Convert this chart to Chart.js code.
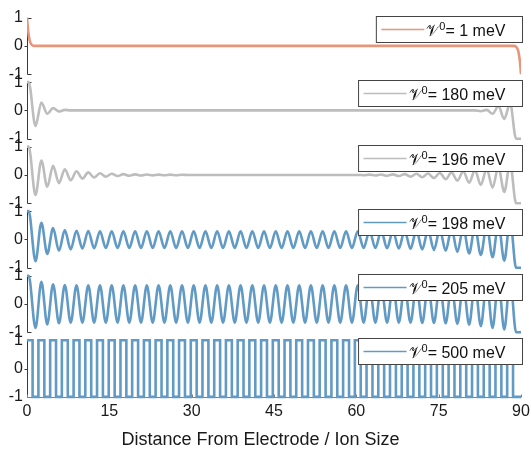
<!DOCTYPE html>
<html>
<head>
<meta charset="utf-8">
<script src="https://cdn.jsdelivr.net/npm/chart.js@4.4.0/dist/chart.umd.min.js"></script>
<style>
  html, body { margin: 0; padding: 0; background: #fff; }
  #wrap { width: 531px; height: 449px; }
</style>
</head>
<body>
<div id="wrap"><canvas id="potChart" width="531" height="449"></canvas></div>
<script>
// one panel per potential, top to bottom
const energies = ["1", "180", "196", "198", "205", "500"];
const xTicks = [0, 15, 30, 45, 60, 75, 90];
const yTicks = [-1, 0, 1];

// 1 meV: drops to zero right at each wall
const flatX = [0, 0.2, 0.5, 0.9, 1.3, 88.7, 89.1, 89.5, 89.8, 90];
const flatY = [1, 0.55, 0.18, 0.03, 0, 0, -0.03, -0.18, -0.55, -1];

// wall plateau, then trough/peak positions, then far wall
const nodeX = [0, 0.3,
  1.55, 2.62, 3.69, 4.75, 5.82, 6.89, 7.96, 9.02, 10.09, 11.16,
  12.23, 13.29, 14.36, 15.43, 16.50, 17.56, 18.63, 19.70, 20.77, 21.83,
  22.90, 23.97, 25.04, 26.10, 27.17, 28.24, 29.31, 30.37, 31.44, 32.51,
  33.58, 34.64, 35.71, 36.78, 37.85, 38.91, 39.98, 41.05, 42.12, 43.18,
  44.25, 45.32, 46.39, 47.45, 48.52, 49.59, 50.66, 51.72, 52.79, 53.86,
  54.93, 55.99, 57.06, 58.13, 59.20, 60.26, 61.33, 62.40, 63.47, 64.53,
  65.60, 66.67, 67.74, 68.80, 69.87, 70.94, 72.01, 73.07, 74.14, 75.21,
  76.28, 77.34, 78.41, 79.48, 80.55, 81.61, 82.68, 83.75, 84.82, 85.88,
  86.95, 88.02,
  89.1, 90];

const meV180 = [1, 1,
  -0.55, 0.28, -0.12, 0.08, -0.04, 0.02, 0, 0, 0, 0,
  0, 0, 0, 0, 0, 0, 0, 0, 0, 0,
  0, 0, 0, 0, 0, 0, 0, 0, 0, 0,
  0, 0, 0, 0, 0, 0, 0, 0, 0, 0,
  0, 0, 0, 0, 0, 0, 0, 0, 0, 0,
  0, 0, 0, 0, 0, 0, 0, 0, 0, 0,
  0, 0, 0, 0, 0, 0, 0, 0, 0, 0,
  0, 0, 0, 0, 0, 0, -0.03, 0.02, -0.12, 0.15,
  -0.3, 0.25,
  -1, -1];

const meV196 = [1, 1,
  -0.71, 0.51, -0.42, 0.32, -0.29, 0.2, -0.19, 0.13, -0.13, 0.09,
  -0.09, 0.06, -0.06, 0.04, -0.04, 0.03, -0.03, 0.02, -0.02, 0.015,
  -0.015, 0.01, -0.01, 0.01, -0.01, 0.005, 0, 0, 0, 0,
  0, 0, 0, 0, 0, 0, 0, 0, 0, 0,
  0, 0, 0, 0, 0, 0, 0, 0, 0, 0,
  0, 0, 0, 0, 0, 0, -0.01, 0.01, -0.02, 0.015,
  -0.03, 0.02, -0.04, 0.03, -0.06, 0.04, -0.08, 0.05, -0.11, 0.07,
  -0.15, 0.09, -0.2, 0.12, -0.27, 0.16, -0.35, 0.21, -0.45, 0.28,
  -0.6, 0.42,
  -1, -1];

const meV198 = [1, 1,
  -0.77, 0.59, -0.51, 0.4, -0.4, 0.33, -0.35, 0.31, -0.32, 0.3,
  -0.31, 0.29, -0.3, 0.29, -0.3, 0.29, -0.3, 0.29, -0.3, 0.29,
  -0.3, 0.29, -0.3, 0.29, -0.3, 0.29, -0.3, 0.29, -0.3, 0.29,
  -0.3, 0.29, -0.3, 0.29, -0.3, 0.29, -0.3, 0.29, -0.3, 0.29,
  -0.3, 0.29, -0.3, 0.29, -0.3, 0.29, -0.3, 0.29, -0.3, 0.29,
  -0.3, 0.29, -0.3, 0.29, -0.3, 0.29, -0.3, 0.3, -0.3, 0.3,
  -0.31, 0.3, -0.32, 0.31, -0.33, 0.32, -0.35, 0.33, -0.37, 0.35,
  -0.4, 0.38, -0.44, 0.41, -0.49, 0.45, -0.55, 0.5, -0.63, 0.58,
  -0.75, 0.7,
  -1, -1];

const meV205 = [1, 1,
  -0.85, 0.78, -0.72, 0.7, -0.68, 0.67, -0.66, 0.66, -0.66, 0.66,
  -0.66, 0.66, -0.66, 0.66, -0.66, 0.66, -0.66, 0.66, -0.66, 0.66,
  -0.66, 0.66, -0.66, 0.66, -0.66, 0.66, -0.66, 0.66, -0.66, 0.66,
  -0.66, 0.66, -0.66, 0.66, -0.66, 0.66, -0.66, 0.66, -0.66, 0.66,
  -0.66, 0.66, -0.66, 0.66, -0.66, 0.66, -0.66, 0.66, -0.66, 0.66,
  -0.66, 0.66, -0.66, 0.66, -0.66, 0.66, -0.66, 0.66, -0.66, 0.66,
  -0.66, 0.66, -0.66, 0.66, -0.66, 0.66, -0.67, 0.66, -0.67, 0.67,
  -0.68, 0.67, -0.7, 0.69, -0.73, 0.72, -0.78, 0.76, -0.85, 0.82,
  -0.9, 0.88,
  -1, -1];

// 500 meV: square wave, x where the level switches and the new level
const switchX = [0,
  1.02, 2.08, 3.16, 4.22, 5.29, 6.35, 7.43, 8.49, 9.56, 10.62,
  11.70, 12.76, 13.83, 14.89, 15.97, 17.03, 18.10, 19.16, 20.24, 21.30,
  22.37, 23.43, 24.51, 25.57, 26.64, 27.70, 28.78, 29.84, 30.91, 31.97,
  33.05, 34.11, 35.18, 36.24, 37.32, 38.38, 39.45, 40.51, 41.59, 42.65,
  43.72, 44.78, 45.86, 46.92, 47.99, 49.05, 50.13, 51.19, 52.26, 53.32,
  54.40, 55.46, 56.53, 57.59, 58.67, 59.73, 60.80, 61.86, 62.94, 64.00,
  65.07, 66.13, 67.21, 68.27, 69.34, 70.40, 71.48, 72.54, 73.61, 74.67,
  75.75, 76.81, 77.88, 78.94, 80.02, 81.08, 82.15, 83.21, 84.29, 85.35,
  86.42, 87.48, 88.55,
  90];
const meV500 = [1,
  -1, 1, -1, 1, -1, 1, -1, 1, -1, 1,
  -1, 1, -1, 1, -1, 1, -1, 1, -1, 1,
  -1, 1, -1, 1, -1, 1, -1, 1, -1, 1,
  -1, 1, -1, 1, -1, 1, -1, 1, -1, 1,
  -1, 1, -1, 1, -1, 1, -1, 1, -1, 1,
  -1, 1, -1, 1, -1, 1, -1, 1, -1, 1,
  -1, 1, -1, 1, -1, 1, -1, 1, -1, 1,
  -1, 1, -1, 1, -1, 1, -1, 1, -1, 1,
  -1, 1, -1,
  -1];

const FONT = '"Liberation Sans", Arial, Helvetica, sans-serif';
const orange = "#E8957A";
const grey = "#BDBDBD";
const blue = "#619AC5";

const toPoints = (xs, ys) => xs.map((x, i) => ({ x: x, y: ys[i] }));

const series = [
  { pts: toPoints(flatX, flatY), color: orange },
  { pts: toPoints(nodeX, meV180), color: grey },
  { pts: toPoints(nodeX, meV196), color: grey },
  { pts: toPoints(nodeX, meV198), color: blue },
  { pts: toPoints(nodeX, meV205), color: blue },
  { pts: toPoints(switchX, meV500), color: blue, stepped: true }
];

const datasets = series.map((s, i) => ({
  label: energies[i] + " meV",
  data: s.pts,
  yAxisID: "p" + i,
  borderColor: s.color,
  backgroundColor: s.color,
  borderWidth: 2.6,
  pointRadius: 0,
  fill: false,
  cubicInterpolationMode: "monotone",
  stepped: s.stepped || false
}));

// stacked y axes, one per panel (the stack is filled from the bottom up)
const scales = {
  x: {
    type: "linear",
    min: 0,
    max: 90,
    afterBuildTicks: (axis) => { axis.ticks = xTicks.map(v => ({ value: v })); },
    grid: { display: false, drawTicks: false },
    border: { display: false },
    ticks: { padding: 1, color: "#1a1a1a", font: { family: FONT, size: 16 } }
  }
};
for (let i = energies.length - 1; i >= 0; i--) {
  scales["p" + i] = {
    type: "linear",
    position: "left",
    stack: "panels",
    stackWeight: 1,
    min: -1.14,
    max: 1.14,
    afterBuildTicks: (axis) => { axis.ticks = yTicks.map(v => ({ value: v })); },
    afterFit: (axis) => { axis.width = 27; },
    grid: { display: false, drawTicks: false },
    border: { display: false },
    ticks: { padding: 4, autoSkip: false, color: "#1a1a1a", font: { family: FONT, size: 16 } }
  };
}

// left bracket axes and the bottom axis line
const axisLines = {
  id: "axisLines",
  beforeDatasetsDraw(chart) {
    const ctx = chart.ctx;
    const area = chart.chartArea;
    const left = Math.round(area.left) + 0.5;
    ctx.save();
    ctx.lineWidth = 1;
    ctx.strokeStyle = "#3a3a3a";
    energies.forEach((e, i) => {
      const ys = chart.scales["p" + i];
      const yTop = Math.round(ys.getPixelForValue(1)) + 0.5;
      const yBot = Math.round(ys.getPixelForValue(-1)) + 0.5;
      const yMid = Math.round(ys.getPixelForValue(0)) + 0.5;
      ctx.beginPath();
      ctx.moveTo(left + 4, yTop);
      ctx.lineTo(left, yTop);
      ctx.lineTo(left, yBot);
      ctx.lineTo(left + 4, yBot);
      ctx.moveTo(left - 3, yMid);
      ctx.lineTo(left, yMid);
      ctx.stroke();
    });
    const last = chart.scales["p" + (energies.length - 1)];
    const yAx = Math.round(last.getPixelForValue(-1)) + 0.5;
    const xs = chart.scales.x;
    ctx.strokeStyle = "#808080";
    ctx.beginPath();
    ctx.moveTo(xs.getPixelForValue(0), yAx);
    ctx.lineTo(xs.getPixelForValue(90), yAx);
    xTicks.forEach(v => {
      const px = Math.round(xs.getPixelForValue(v)) + 0.5;
      ctx.moveTo(px, yAx);
      ctx.lineTo(px, yAx - 3);
    });
    ctx.stroke();
    ctx.restore();
  }
};

// boxed legend inside the top right of each panel
const panelLegends = {
  id: "panelLegends",
  afterDatasetsDraw(chart) {
    const ctx = chart.ctx;
    const area = chart.chartArea;
    chart.data.datasets.forEach((ds, i) => {
      const ys = chart.scales[ds.yAxisID];
      const top = Math.round(ys.getPixelForValue(1)) - 1.5;
      const h = 26;
      const right = Math.round(area.right) + 1.5;
      const mid = top + h / 2;
      ctx.save();
      ctx.font = "16px " + FONT;
      const rest = "= " + energies[i] + " meV";
      const wRest = ctx.measureText(rest).width;
      ctx.font = '16px "DejaVu Serif", "DejaVu Sans", serif';
      const wV = ctx.measureText("\u{1D4B1}").width;
      ctx.font = "11px " + FONT;
      const wSup = ctx.measureText("0").width;
      const w = 5 + 43 + 2 + wV + wSup + wRest + 17;
      const left = right - w;
      ctx.fillStyle = "#fff";
      ctx.fillRect(left, top, w, h);
      ctx.strokeStyle = "#444";
      ctx.lineWidth = 1;
      ctx.strokeRect(left, top, w, h);
      ctx.strokeStyle = ds.borderColor;
      ctx.lineWidth = 1.4;
      ctx.beginPath();
      ctx.moveTo(left + 5, mid);
      ctx.lineTo(left + 48, mid);
      ctx.stroke();
      let tx = left + 50;
      ctx.fillStyle = "#111";
      ctx.textBaseline = "alphabetic";
      const base = mid + 6;
      ctx.font = '16px "DejaVu Serif", "DejaVu Sans", serif';
      ctx.fillText("\u{1D4B1}", tx, base);
      tx += wV;
      ctx.font = "11px " + FONT;
      ctx.fillText("0", tx, base - 6);
      tx += wSup;
      ctx.font = "16px " + FONT;
      ctx.fillText(rest, tx, base);
      ctx.restore();
    });
  }
};

new Chart(document.getElementById("potChart").getContext("2d"), {
  type: "line",
  data: { datasets: datasets },
  options: {
    responsive: false,
    animation: false,
    devicePixelRatio: 1,
    layout: { padding: { top: 11, right: 10, bottom: 0, left: 0 } },
    plugins: {
      legend: { display: false },
      tooltip: { enabled: false },
      title: {
        display: true,
        position: "bottom",
        text: "Distance From Electrode / Ion Size",
        color: "#1a1a1a",
        font: { family: FONT, size: 18, weight: "normal", lineHeight: 1 },
        padding: { top: 9, bottom: 0 }
      }
    },
    scales: scales
  },
  plugins: [axisLines, panelLegends]
});
</script>
</body>
</html>
